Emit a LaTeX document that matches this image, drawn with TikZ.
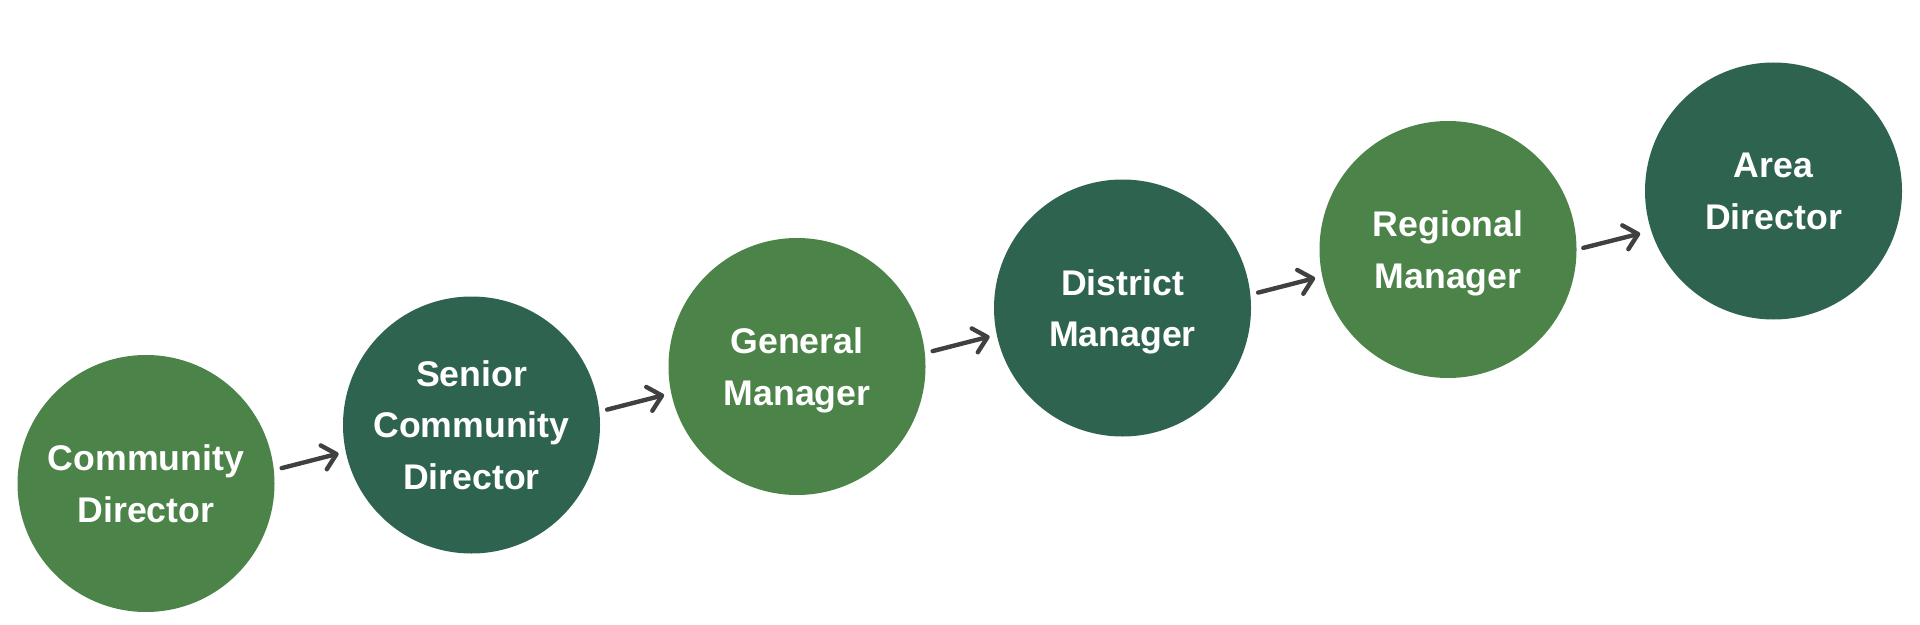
\documentclass[tikz,border=0pt]{standalone}
\usepackage{fontspec}
\setmainfont{Liberation Sans}
\usetikzlibrary{arrows.meta}
\definecolor{lightg}{HTML}{4B8348}
\definecolor{darkg}{HTML}{2E634F}
\definecolor{arrowc}{HTML}{404040}
\tikzset{
  role/.style={circle, minimum size=257*0.02cm, inner sep=0pt, text=white, align=center,
    text depth=0pt, font=\fontsize{20.3}{29.5}\selectfont\bfseries},
  rolelight/.style={role, fill=lightg},
  roledark/.style={role, fill=darkg},
  arr/.style={draw=arrowc, line width=2.5pt, line cap=round,
    -{Straight Barb[length=7.5pt, width=14pt, line cap=round, line join=round]}}
}
\begin{document}
\begin{tikzpicture}[x=0.02cm, y=-0.02cm]
\useasboundingbox (0,0) rectangle (1920,625);
\node[rolelight] (c1) at (146,483.5) {Community\\Director};
\node[roledark] (c2) at (471.5,425) {Senior\\Community\\Director};
\node[rolelight] (c3) at (797,366.5) {General\\Manager};
\node[roledark] (c4) at (1122.5,308) {District\\Manager};
\node[rolelight] (c5) at (1448,249.5) {Regional\\Manager};
\node[roledark] (c6) at (1773.5,191) {Area\\Director};
\draw[arr, shorten <=4.4pt, shorten >=4pt] (c1.6.6) -- (c2.192.1);
\draw[arr, shorten <=4.4pt, shorten >=4pt] (c2.6.6) -- (c3.192.1);
\draw[arr, shorten <=4.4pt, shorten >=4pt] (c3.6.6) -- (c4.192.1);
\draw[arr, shorten <=4.4pt, shorten >=4pt] (c4.6.6) -- (c5.192.1);
\draw[arr, shorten <=3.8pt, shorten >=6.3pt] (c5.-0.2) -- (c6.198.4);
\end{tikzpicture}
\end{document}
